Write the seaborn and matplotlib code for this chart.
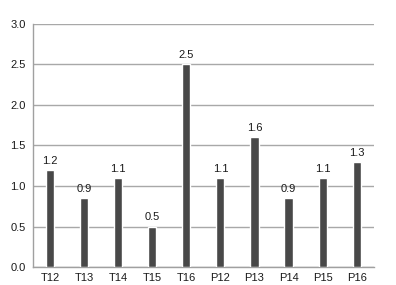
import matplotlib
matplotlib.use("Agg")
import matplotlib.pyplot as plt
import seaborn as sns
import pandas as pd
import numpy as np

categories = ["T12", "T13", "T14", "T15", "T16", "P12", "P13", "P14", "P15", "P16"]
values = [1.2, 0.85, 1.1, 0.5, 2.5, 1.1, 1.6, 0.85, 1.1, 1.3]
value_labels = ["1.2", "0.9", "1.1", "0.5", "2.5", "1.1", "1.6", "0.9", "1.1", "1.3"]
y_ticks = [0.0, 0.5, 1.0, 1.5, 2.0, 2.5, 3.0]

sns.set_style("white")
plt.rcParams['font.family'] = ['Liberation Sans', 'DejaVu Sans']

df = pd.DataFrame({"cat": categories, "val": values})

fig = plt.figure(figsize=(3.96, 2.85), dpi=100)
ax = fig.add_axes([0.083, 0.063, 0.861, 0.853])
sns.barplot(data=df, x="cat", y="val", color="#484848", saturation=1, width=0.24, ax=ax, zorder=3)

for p, lab in zip(ax.patches, value_labels):
    ax.text(p.get_x() + p.get_width() / 2, p.get_height() + 0.05, lab,
            ha="center", va="bottom", fontsize=8, color="#1a1a1a")

ax.set_ylim(0, 3.0)
ax.set_xlim(-0.5, len(categories) - 0.5)
ax.set_yticks(y_ticks)
ax.set_yticklabels([f"{t:.1f}" for t in y_ticks], fontsize=8, color="#1a1a1a")
ax.yaxis.grid(True, color="#a8a8a8", linewidth=1.0, zorder=0)
ax.set_axisbelow(True)
ax.set_xlabel("")
ax.set_ylabel("")
ax.tick_params(axis="x", which="major", length=0, labelsize=8, labelcolor="#1a1a1a", pad=4)
ax.set_xticks(np.arange(-0.5, len(categories)), minor=True)
ax.tick_params(axis="x", which="minor", length=3, color="#999999", direction="out")
ax.tick_params(axis="y", length=3, color="#999999", direction="out", pad=2)

for s in ["top", "right"]:
    ax.spines[s].set_visible(False)
for s in ["left", "bottom"]:
    ax.spines[s].set_color("#a0a0a0")
    ax.spines[s].set_linewidth(1.0)

fig.savefig("out.png", dpi=100)
